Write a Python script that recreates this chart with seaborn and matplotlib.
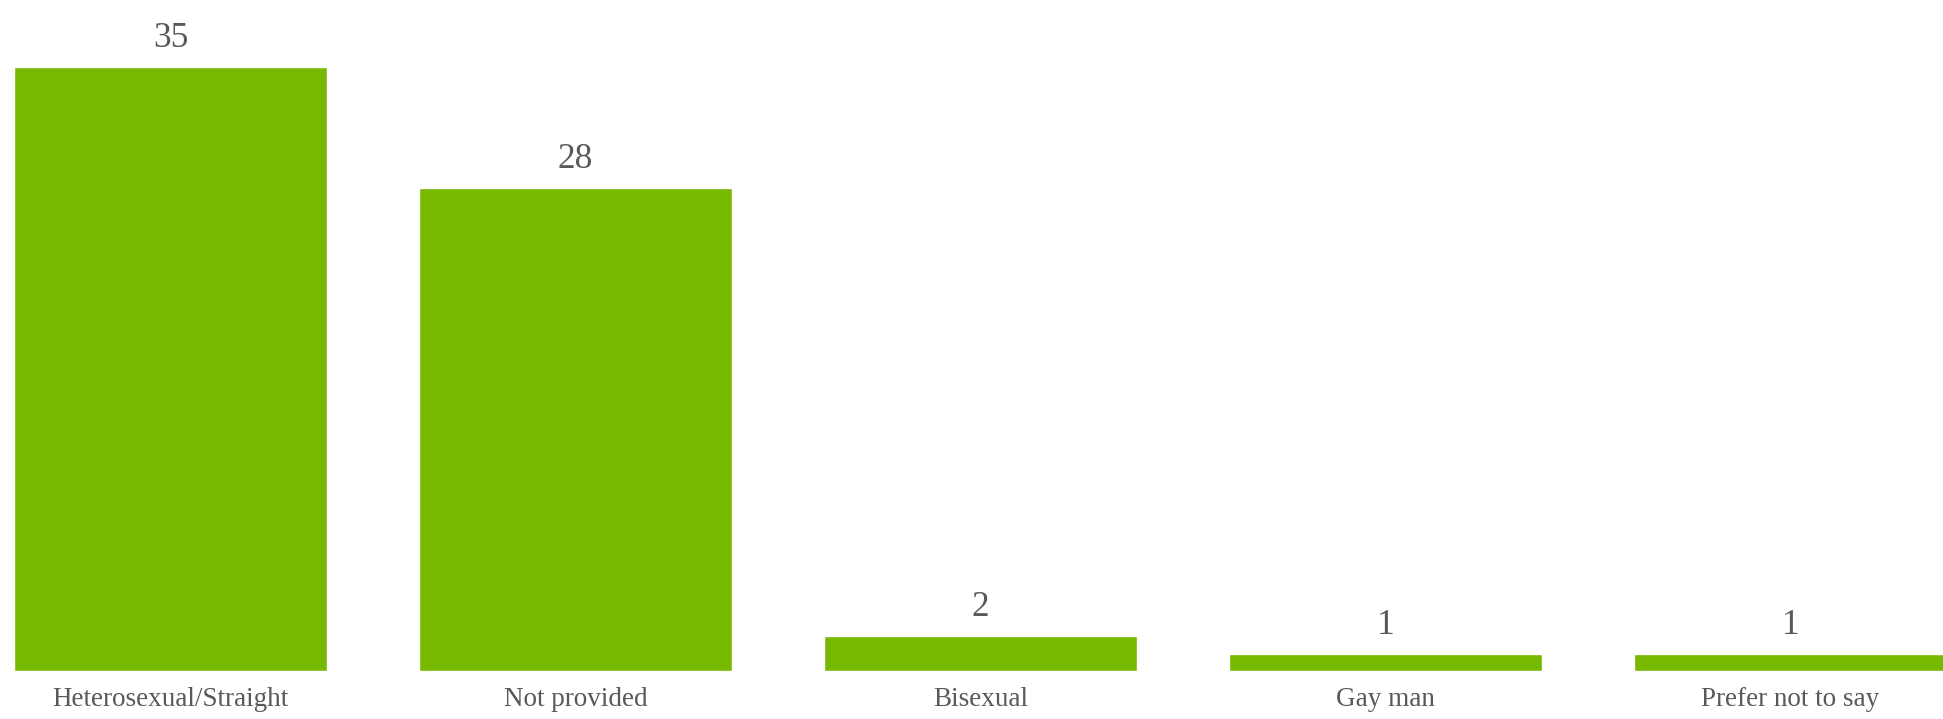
import matplotlib
matplotlib.use("Agg")
import matplotlib.pyplot as plt
import seaborn as sns
import pandas as pd

categories = ["Heterosexual/Straight", "Not provided", "Bisexual", "Gay man", "Prefer not to say"]
counts = [35, 28, 2, 1, 1]

df = pd.DataFrame({"category": categories, "count": counts})

sns.set_theme(style="white")
plt.rcParams["font.family"] = ["Liberation Serif", "DejaVu Serif"]

text_color = "#595959"
bar_color = "#76B900"

fig = plt.figure(figsize=(19.43, 7.19), dpi=100)
ax = fig.add_axes([0.0, 0.0668, 1.0, 0.9332])

sns.barplot(data=df, x="category", y="count", color=bar_color, width=0.773,
            saturation=1, ax=ax)

ax.set_xlim(-0.421, 4.3765)
ax.set_ylim(0, 38.88)

# value labels above each bar
for i, v in enumerate(counts):
    ax.annotate(str(v), xy=(i, v), xytext=(0, 14.5), textcoords="offset points",
                ha="center", va="baseline", fontsize=25.5, color=text_color)

ax.set_xlabel("")
ax.set_ylabel("")
ax.set_yticks([])
ax.tick_params(axis="x", length=0, pad=11.8, labelsize=19.5, labelcolor=text_color)
for s in ax.spines.values():
    s.set_visible(False)

fig.savefig("out.png", dpi=100, facecolor="white")
